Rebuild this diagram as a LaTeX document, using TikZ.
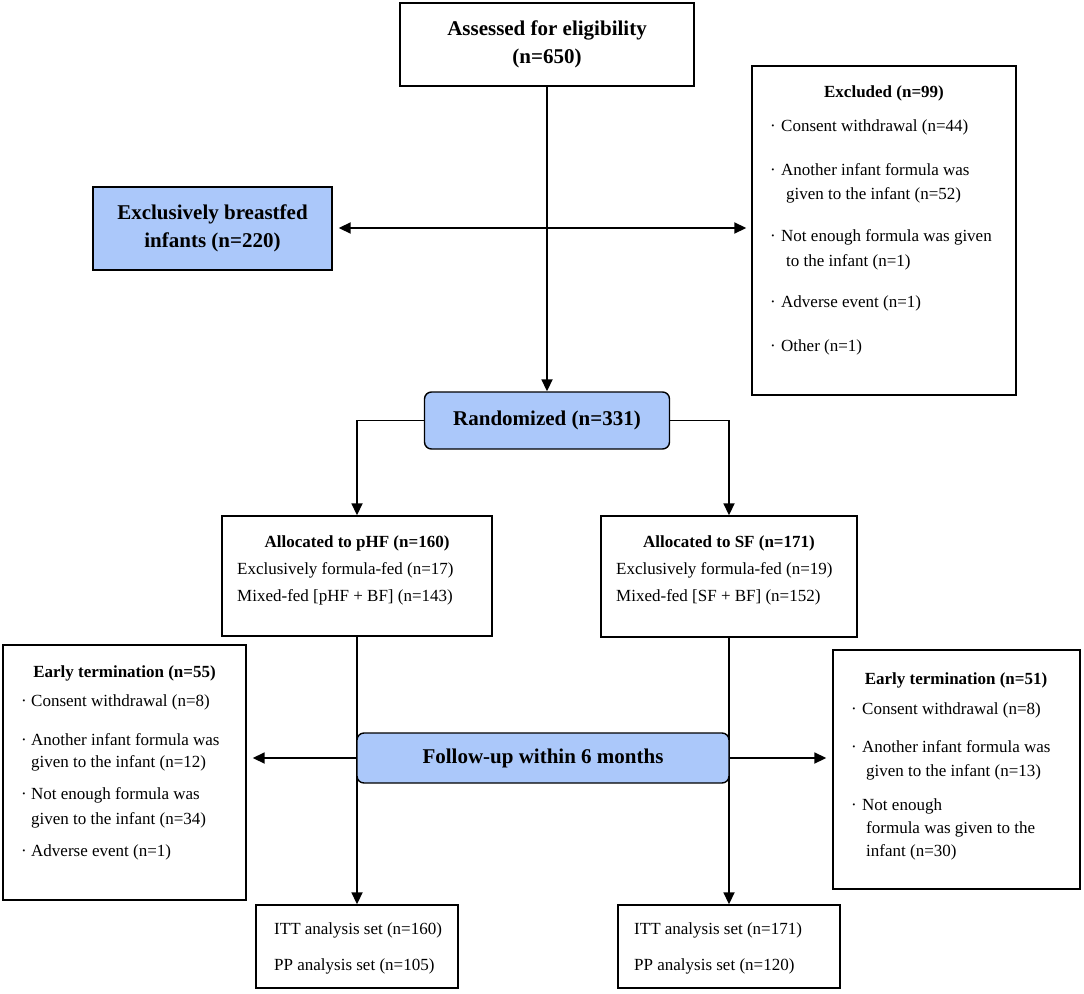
\documentclass[tikz,border=0pt]{standalone}
\usepackage{fontspec}
\setmainfont{Liberation Serif}
\usetikzlibrary{arrows.meta,calc}
\definecolor{boxblue}{RGB}{171,200,250}
\begin{document}
\begin{tikzpicture}[x=1pt,y=-1pt,
  box/.style={draw=black, line width=1.4pt, rectangle, inner sep=0pt},
  bluebox/.style={box, fill=boxblue},
  rbox/.style={bluebox, rounded corners=7pt},
  big/.style={font=\fontsize{21}{28}\selectfont\bfseries, align=center},
  hd/.style={inner sep=0pt, font=\fontsize{17}{20}\selectfont\bfseries},
  tx/.style={inner sep=0pt, anchor=west, font=\fontsize{17}{20}\selectfont},
  arr/.style={line width=1.8pt, -{Triangle[length=12pt,width=11pt]}},
  ln/.style={line width=1.8pt}]
\useasboundingbox (0,0) rectangle (1084,993);

% boxes
\node[box, big, minimum width=294, minimum height=83] (assess) at (547,44.5) {Assessed for eligibility\\(n=650)};
\node[bluebox, big, minimum width=239, minimum height=83] (ebf) at (212.5,228.5) {Exclusively breastfed\\infants (n=220)};
\node[box, minimum width=264, minimum height=329] (excl) at (884,230.5) {};
\node[rbox, big, minimum width=245, minimum height=57] (rand) at (547,420.5) {Randomized (n=331)};
\node[box, minimum width=270, minimum height=120] (phf) at (357,576) {};
\node[box, minimum width=256, minimum height=121] (sf) at (729,576.5) {};
\node[box, minimum width=243, minimum height=255] (etl) at (124.5,772.5) {};
\node[box, minimum width=247, minimum height=239] (etr) at (956.5,769.5) {};
\node[box, minimum width=202, minimum height=83] (ittl) at (357,946.5) {};
\node[box, minimum width=222, minimum height=83] (ittr) at (729,946.5) {};

% connectors
\coordinate (j1) at (547,228);
\draw[arr] (assess.south) -- (rand.north);
\draw[arr, shorten >=6pt] (j1) -- (j1 -| ebf.east);
\draw[arr, shorten >=5pt] (j1) -- (j1 -| excl.west);
\draw[arr] (rand.west) -| (phf.north);
\draw[arr] (rand.east) -| (sf.north);
\draw[arr] (phf.south) -- (ittl.north);
\draw[arr] (sf.south) -- (ittr.north);

\node[rbox, big, minimum width=372, minimum height=50] (fu) at (543,758) {Follow-up within 6 months};
\draw[arr, shorten >=6pt] (fu.west) -- (fu.west -| etl.east);
\draw[arr, shorten >=6pt] (fu.east) -- (fu.east -| etr.west);

% Excluded text
\node[hd] (xh) at (884,93) {Excluded (n=99)};
\node[tx] (x1) at (770,127) {\makebox[11pt][l]{·}Consent withdrawal (n=44)};
\node[tx] (x2) at (770,170) {\makebox[11pt][l]{·}Another infant formula was};
\node[tx] (x2b) at (786,195) {given to the infant (n=52)};
\node[tx] (x3) at (770,237) {\makebox[11pt][l]{·}Not enough formula was given};
\node[tx] (x3b) at (786,262) {to the infant (n=1)};
\node[tx] (x4) at (770,303) {\makebox[11pt][l]{·}Adverse event (n=1)};
\node[tx] (x5) at (770,347) {\makebox[11pt][l]{·}Other (n=1)};

% Allocated pHF
\node[hd] (ph) at (357,543) {Allocated to pHF (n=160)};
\node[tx] (p1) at (237,570) {Exclusively formula-fed (n=17)};
\node[tx] (p2) at (237,597) {Mixed-fed [pHF + BF] (n=143)};

% Allocated SF
\node[hd] (sh) at (729,543) {Allocated to SF (n=171)};
\node[tx] (s1) at (616,570) {Exclusively formula-fed (n=19)};
\node[tx] (s2) at (616,597) {Mixed-fed [SF + BF] (n=152)};

% Early termination left
\node[hd] (lh) at (124.5,673) {Early termination (n=55)};
\node[tx] (l1) at (21,702) {\makebox[10pt][l]{·}Consent withdrawal (n=8)};
\node[tx] (l2) at (21,740) {\makebox[10pt][l]{·}Another infant formula was};
\node[tx] (l2b) at (31,763) {given to the infant (n=12)};
\node[tx] (l3) at (21,795) {\makebox[10pt][l]{·}Not enough formula was};
\node[tx] (l3b) at (31,820) {given to the infant (n=34)};
\node[tx] (l4) at (21,852) {\makebox[10pt][l]{·}Adverse event (n=1)};

% Early termination right
\node[hd] (rh) at (956,680) {Early termination (n=51)};
\node[tx] (r1) at (851,710) {\makebox[11pt][l]{·}Consent withdrawal (n=8)};
\node[tx] (r2) at (851,747) {\makebox[11pt][l]{·}Another infant formula was};
\node[tx] (r2b) at (866,772) {given to the infant (n=13)};
\node[tx] (r3) at (851,806) {\makebox[11pt][l]{·}Not enough};
\node[tx] (r3b) at (866,829) {formula was given to the};
\node[tx] (r3c) at (866,852) {infant (n=30)};

% ITT boxes
\node[tx] (i1) at (274,930) {ITT analysis set (n=160)};
\node[tx] (i2) at (274,966) {PP analysis set (n=105)};
\node[tx] (k1) at (634,930) {ITT analysis set (n=171)};
\node[tx] (k2) at (634,966) {PP analysis set (n=120)};
\end{tikzpicture}
\end{document}
